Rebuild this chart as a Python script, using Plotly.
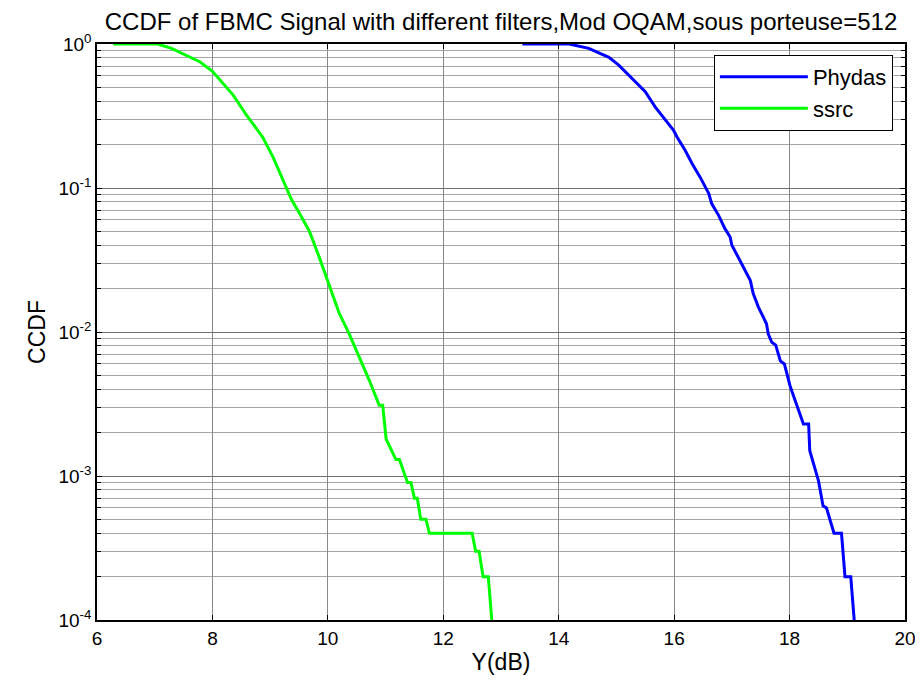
import plotly.graph_objects as go

# ssrc filter CCDF
ssrc_x = [6.28, 7.05, 7.29, 7.55, 7.78, 8.00, 8.36, 8.59, 8.87, 9.05, 9.22, 9.37, 9.51,
          9.68, 9.85, 10.03, 10.20, 10.37, 10.60, 10.72, 10.89, 10.95, 11.01, 11.18,
          11.24, 11.38, 11.44, 11.50, 11.55, 11.61, 11.70, 11.76, 12.50, 12.56, 12.62,
          12.69, 12.78, 12.84]
ssrc_y = [1.0, 1.0, 0.933, 0.838, 0.753, 0.646, 0.442, 0.321, 0.226, 0.164, 0.113, 0.0832,
          0.0664, 0.0501, 0.0331, 0.0205, 0.0134, 0.0097, 0.0060, 0.0046, 0.0031, 0.0031,
          0.0018, 0.0013, 0.0013, 0.0009, 0.0009, 0.0007, 0.0007, 0.0005, 0.0005, 0.0004,
          0.0004, 0.0003, 0.0003, 0.0002, 0.0002, 0.0001]

# Phydas filter CCDF
phydas_x = [13.37, 14.18, 14.52, 14.87, 15.04, 15.27, 15.50, 15.67, 15.85, 15.99, 16.05,
            16.19, 16.31, 16.45, 16.60, 16.65, 16.77, 16.88, 16.97, 17.00, 17.14, 17.32,
            17.37, 17.46, 17.60, 17.63, 17.69, 17.76, 17.84, 17.91, 18.01, 18.12, 18.24,
            18.33, 18.35, 18.50, 18.58, 18.64, 18.77, 18.90, 18.96, 19.06, 19.12]
phydas_y = [1.0, 1.0, 0.933, 0.807, 0.714, 0.577, 0.466, 0.366, 0.296, 0.252, 0.226,
            0.183, 0.148, 0.119, 0.0914, 0.078, 0.0646, 0.0522, 0.0457, 0.040, 0.0314,
            0.0228, 0.0185, 0.0149, 0.0114, 0.0097, 0.0085, 0.0081, 0.0063, 0.0060,
            0.0042, 0.0032, 0.0023, 0.0023, 0.0015, 0.00093, 0.00062, 0.0006, 0.0004,
            0.0004, 0.0002, 0.0002, 0.0001]

x_ticks = [6, 8, 10, 12, 14, 16, 18, 20]
y_ticks = [1e-4, 1e-3, 1e-2, 1e-1, 1]
y_ticktext = ["10<sup>-4</sup>", "10<sup>-3</sup>", "10<sup>-2</sup>", "10<sup>-1</sup>", "10<sup>0</sup>"]
y_minor = [m * d for d in [1e-4, 1e-3, 1e-2, 1e-1] for m in range(2, 10)]

FONT = "Liberation Sans, Arial, sans-serif"

fig = go.Figure()
fig.add_trace(go.Scatter(x=phydas_x, y=phydas_y, mode="lines", name="Phydas",
                         line=dict(color="#0000ff", width=3)))
fig.add_trace(go.Scatter(x=ssrc_x, y=ssrc_y, mode="lines", name="ssrc",
                         line=dict(color="#00ff00", width=3)))

# the page body has an 8px margin, so the figure is a bit smaller than the window
fig.update_layout(
    width=907, height=667,
    margin=dict(l=89, r=10, t=36, b=55),
    paper_bgcolor="white", plot_bgcolor="white",
    font=dict(family=FONT, size=19, color="black"),
    title=dict(text="CCDF of FBMC Signal with different filters,Mod OQAM,sous porteuse=512",
               x=0.5, xref="paper", xanchor="center",
               y=0.979, yref="container", yanchor="middle",
               font=dict(family=FONT, size=24)),
    legend=dict(x=0.985, y=0.981, xanchor="right", yanchor="top",
                bgcolor="white", bordercolor="black", borderwidth=1,
                font=dict(size=22), itemwidth=88),
    showlegend=True,
)

fig.update_xaxes(
    range=[6, 20], tickvals=x_ticks, ticks="inside", ticklen=5, tickcolor="black",
    showline=True, linecolor="black", linewidth=1.5, mirror="ticks",
    showgrid=True, gridcolor="#8a8a8a", gridwidth=1, zeroline=False,
    ticklabeloverflow="allow", automargin=False,
    title=dict(text="Y(dB)", standoff=9),
)
fig.update_yaxes(
    type="log", range=[-4, 0], tickvals=y_ticks, ticktext=y_ticktext,
    ticks="inside", ticklen=5, tickcolor="black",
    showline=True, linecolor="black", linewidth=1.5, mirror="ticks",
    showgrid=True, gridcolor="#6e6e6e", gridwidth=1, zeroline=False,
    automargin=False,
    minor=dict(tickvals=y_minor, ticks="inside", ticklen=4, tickcolor="black",
               showgrid=True, gridcolor="#a6a6a6", gridwidth=1),
    title=dict(text="CCDF", standoff=6),
)

fig.write_html("out.html")
